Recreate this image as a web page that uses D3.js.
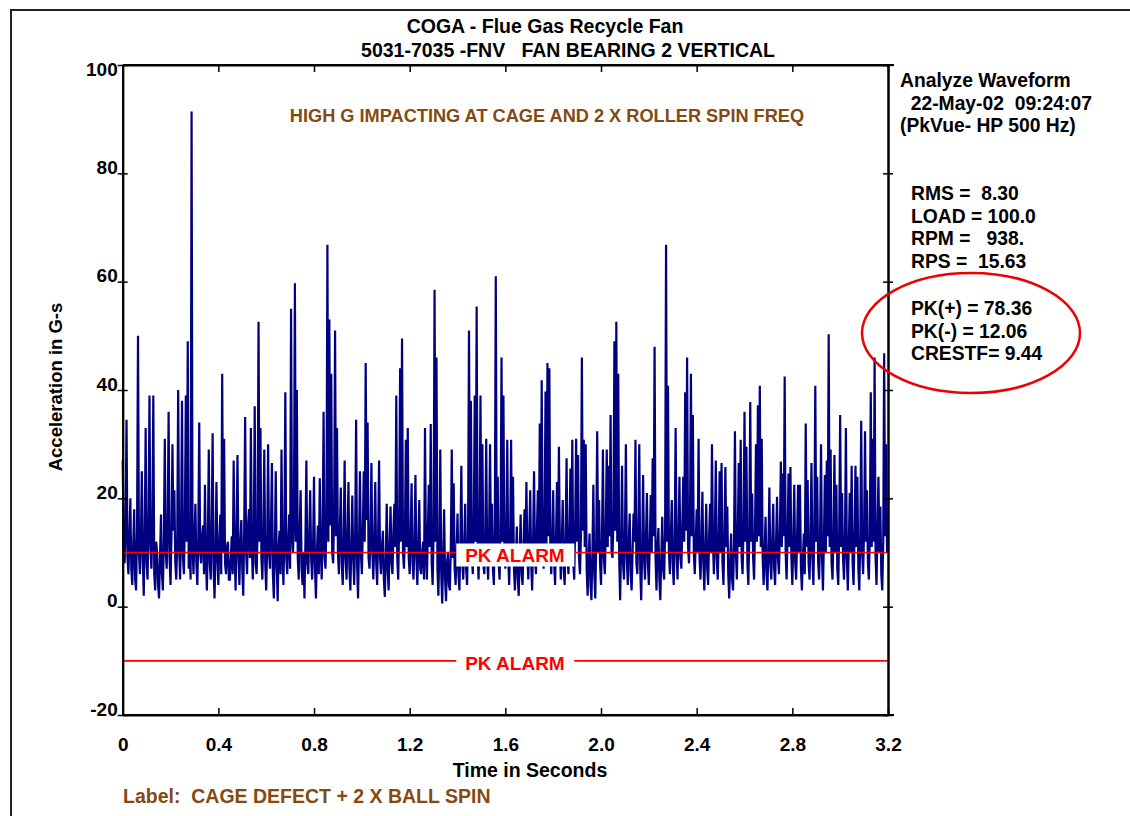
<!DOCTYPE html>
<html>
<head>
<meta charset="utf-8">
<script src="https://cdn.jsdelivr.net/npm/d3@7"></script>
<style>
  body { margin: 0; background: #fff; }
  text { font-family: "Liberation Sans", Arial, sans-serif; font-weight: bold; white-space: pre; }
</style>
</head>
<body>
<div id="chart"></div>
<script>

// waveform data (G-s, one sample every 0.004 s, 20 samples per row)
const sampleStep = 0.004;
const acceleration = [
  27, 12, 8, 15, 34.5, 9, 6, 13, 20, 7, 4, 11, 18, 5, 3, 14, 50, 10, 6, 12,
  25, 9, 2, 13, 33, 8, 5, 16, 39, 11, 7, 14, 39, 6, 3, 12, 10, 4, 1.5, 9,
  17, 6, 3, 12, 31, 10, 7, 15, 36, 9, 4, 13, 30, 14, 21.5, 8, 5, 12, 40, 11,
  5, 14, 38, 9, 6, 16, 39, 12, 49, 7, 10, 5, 91.4, 11, 6, 13, 19, 8, 4, 12,
  34, 10, 8, 13, 15, 6, 22.5, 9, 3, 12, 29, 8, 5, 14, 32, 7, 1.5, 10, 23, 9,
  4, 12, 17, 6, 43, 10, 31, 8, 6, 11, 12, 5, 5, 9, 13, 6, 27, 11, 3, 13,
  28, 9, 4, 12, 16, 7, 2, 14, 35, 10, 6, 15, 18, 9, 33, 11, 5, 13, 37, 8,
  6, 14, 52.6, 12, 33, 9, 5, 13, 29, 8, 3, 11, 30, 10, 7, 15, 26.5, 6, 1.5, 10,
  25, 8, 1, 11, 14, 6, 29, 10, 4, 13, 39.6, 9, 6, 12, 17, 7, 55, 13, 10, 16,
  59.7, 12, 40, 9, 5, 14, 21.5, 7, 4, 10, 1.5, 12, 27, 8, 6, 13, 21.5, 9, 5, 11,
  24, 7, 1.5, 10, 15, 6, 23.7, 11, 5, 14, 36, 9, 7, 16, 66.8, 12, 53, 15, 43, 10,
  8, 17, 51, 13, 33, 10, 6, 14, 22, 8, 4, 12, 27, 9, 5, 13, 23, 7, 3, 11,
  20.5, 9, 4, 13, 34.5, 8, 1.5, 11, 25, 10, 6, 14, 25, 12, 45, 16, 34, 9, 7, 13,
  26.5, 10, 5, 12, 23, 8, 4, 13, 27, 9, 6, 11, 14, 5, 1.8, 9, 19, 7, 3, 12,
  18.5, 8, 6, 14, 19, 11, 39, 9, 5, 15, 44, 12, 49.5, 10, 7, 13, 30.8, 11, 33, 9,
  6, 13, 22.8, 8, 5, 12, 24.3, 9, 4, 11, 19.7, 7, 6, 10, 12, 5, 33, 10, 5, 14,
  22.5, 11, 33.7, 8, 4, 14, 58.5, 12, 46, 7, 2, 10, 29, 6, 0.6, 9, 18, 5, 1, 8,
  10, 4, 3, 11, 29, 9, 22.8, 7, 4, 10, 17.2, 6, 3, 12, 26, 8, 5, 11, 19, 7,
  4, 13, 51, 11, 38, 9, 6, 15, 39, 12, 55.4, 10, 5, 14, 39, 11, 30, 8, 6, 12,
  31, 9, 5, 13, 30, 10, 19, 7, 4, 15, 61, 11, 24, 8, 5, 14, 46, 12, 39, 10,
  7, 13, 30.8, 9, 4, 12, 30.8, 10, 24, 7, 3, 9, 14.8, 5, 2, 10, 17, 6, 4, 11,
  18, 8, 23, 10, 5, 13, 21.5, 8, 3, 12, 25, 9, 6, 14, 21.5, 11, 33.8, 9, 41.8, 12,
  7, 15, 39.7, 11, 45, 13, 44, 10, 6, 12, 21.5, 8, 4, 13, 23, 9, 29.5, 11, 5, 12,
  19.7, 7, 4, 13, 27.4, 9, 6, 14, 25.5, 11, 30.8, 8, 5, 15, 31, 12, 28, 9, 6, 13,
  46, 14, 30.8, 11, 30, 7, 2, 9, 13.5, 4, 1.2, 10, 22.5, 6, 1.5, 12, 32.4, 10, 19.7, 8,
  4, 12, 29, 9, 6, 14, 29, 11, 26, 13, 35.4, 10, 9, 16, 49, 14, 52.6, 12, 43, 9,
  1.2, 11, 26, 8, 5, 13, 30, 9, 4, 12, 17.2, 6, 3, 10, 17.2, 12, 30.8, 8, 6, 14,
  30, 7, 1.2, 10, 24.3, 9, 5, 13, 21, 8, 4, 12, 20.6, 10, 27.4, 13, 48, 9, 3, 11,
  14.5, 5, 1.2, 9, 16.6, 7, 5, 14, 66.8, 12, 40.8, 10, 6, 13, 19.7, 8, 4, 12, 33, 10,
  5, 13, 24, 9, 7, 15, 24, 12, 39.6, 14, 46, 11, 8, 16, 43, 13, 35.4, 10, 6, 12,
  18, 10, 31, 9, 5, 12, 21.2, 8, 3, 11, 19, 7, 4, 13, 19, 10, 30, 12, 6, 13,
  27, 9, 5, 12, 25, 10, 26.5, 8, 4, 13, 25.8, 11, 18.5, 6, 1.5, 8, 13.5, 5, 3, 11,
  32.4, 10, 5, 14, 26.5, 11, 30.8, 9, 6, 15, 36, 12, 29.5, 8, 4, 13, 37.8, 12, 20.9, 9,
  5, 14, 30, 12, 37.2, 13, 40.8, 11, 31, 9, 4, 10, 16.6, 6, 3, 11, 22, 8, 5, 12,
  19, 7, 4, 12, 20.3, 9, 6, 14, 26.8, 11, 24.6, 13, 42.5, 10, 5, 13, 24.6, 11, 25.8, 9,
  4, 12, 22.5, 8, 5, 13, 22.5, 10, 22.5, 7, 3, 9, 13.5, 6, 33.8, 11, 23.4, 8, 5, 13,
  26.5, 9, 4, 14, 40.8, 12, 24, 8, 5, 13, 30, 9, 3, 12, 24.3, 10, 27, 13, 50.3, 11,
  29, 8, 5, 13, 28, 10, 22.5, 7, 4, 14, 35.4, 11, 21, 9, 5, 12, 33, 9, 3, 11,
  21, 10, 26, 8, 4, 13, 26, 11, 24, 7, 3, 12, 34.3, 10, 6, 14, 32.4, 12, 21.5, 8,
  5, 13, 39.6, 11, 31, 12, 46, 9, 4, 14, 24, 10, 18.5, 6, 3, 12, 46.8, 13, 30, 10,
  12
];

// axes
const xTicks = [0, 0.4, 0.8, 1.2, 1.6, 2.0, 2.4, 2.8, 3.2];
const yTicks = [-20, 0, 20, 40, 60, 80, 100];
const alarmLevels = [10, -10];

// texts
const titleLines = ["COGA - Flue Gas Recycle Fan", "5031-7035 -FNV   FAN BEARING 2 VERTICAL"];
const infoLines = ["Analyze Waveform", "  22-May-02  09:24:07", "(PkVue- HP 500 Hz)"];
const statLines = ["RMS =  8.30", "LOAD = 100.0", "RPM =   938.", "RPS =  15.63"];
const peakLines = ["PK(+) = 78.36", "PK(-) = 12.06", "CRESTF= 9.44"];
const noteText = "HIGH G IMPACTING AT CAGE AND 2 X ROLLER SPIN FREQ";
const labelText = "Label:  CAGE DEFECT + 2 X BALL SPIN";

const width = 1130, height = 816;
const plot = { left: 122.7, right: 888, top: 65, bottom: 715 };
const brown = "#844a12";

const svg = d3.select("#chart")
  .append("svg")
  .attr("width", width)
  .attr("height", height);

// page frame (top and left edges only)
svg.append("path")
  .attr("d", `M11,${height} V10 H${width}`)
  .attr("fill", "none")
  .attr("stroke", "#222")
  .attr("stroke-width", 2);

const x = d3.scaleLinear().domain([0, 3.2]).range([plot.left, plot.right]);
const y = d3.scaleLinear().domain([-20, 100]).range([plot.bottom, plot.top]);

// waveform
const line = d3.line()
  .x((d, i) => x(i * sampleStep))
  .y(d => y(d));

svg.append("path")
  .datum(acceleration)
  .attr("d", line)
  .attr("fill", "none")
  .attr("stroke", "#000080")
  .attr("stroke-width", 2.2);

// alarm lines with their labels
alarmLevels.forEach((lvl) => {
  svg.append("line")
    .attr("x1", plot.left).attr("x2", plot.right)
    .attr("y1", y(lvl)).attr("y2", y(lvl))
    .attr("stroke", "#ff0000")
    .attr("stroke-width", 1.6);
  svg.append("rect") // white box behind label
    .attr("x", x(1.395)).attr("y", y(lvl) - 9)
    .attr("width", 118).attr("height", 23)
    .attr("fill", "#fff");
  svg.append("text")
    .attr("x", x(1.64)).attr("y", y(lvl) + 9.5)
    .attr("text-anchor", "middle")
    .attr("font-size", 19)
    .attr("fill", "#ff0000")
    .text("PK ALARM");
});

// left axis, ticks crossing the line
const yAxis = svg.append("g")
  .attr("transform", `translate(${plot.left},0)`)
  .call(d3.axisLeft(y).tickValues(yTicks).tickSize(5).tickPadding(0)
    .tickFormat(d => String(d)).tickSizeOuter(0));
svg.append("g")
  .attr("transform", `translate(${plot.left},0)`)
  .call(d3.axisRight(y).tickValues(yTicks).tickSize(5).tickFormat("").tickSizeOuter(0));
yAxis.selectAll("text")
  .attr("dy", d => d === 100 ? "10px" : "0px")
  .attr("font-size", 19)
  .attr("fill", "#000");

// right axis, ticks crossing too
svg.append("g")
  .attr("transform", `translate(${plot.right},0)`)
  .call(d3.axisRight(y).tickValues(yTicks).tickSize(5).tickFormat("").tickSizeOuter(0));
svg.append("g")
  .attr("transform", `translate(${plot.right},0)`)
  .call(d3.axisLeft(y).tickValues(yTicks).tickSize(5).tickFormat("").tickSizeOuter(0));

// bottom axis, ticks pointing up
const xAxis = svg.append("g")
  .attr("transform", `translate(0,${plot.bottom})`)
  .call(d3.axisBottom(x).tickValues(xTicks).tickSize(-7).tickPadding(23)
    .tickFormat(d => d === 0 ? "0" : d3.format(".1f")(d)).tickSizeOuter(0));
xAxis.selectAll("text")
  .attr("font-size", 19)
  .attr("fill", "#000");

// top axis, ticks pointing down
svg.append("g")
  .attr("transform", `translate(0,${plot.top})`)
  .call(d3.axisTop(x).tickValues(xTicks).tickSize(-7).tickFormat("").tickSizeOuter(0));

// frame lines run a little past the right axis
[plot.top, plot.bottom].forEach(yy => {
  svg.append("line")
    .attr("x1", plot.left).attr("x2", plot.right + 6)
    .attr("y1", yy).attr("y2", yy)
    .attr("stroke", "#000").attr("stroke-width", 2);
});
svg.selectAll(".domain").attr("stroke-width", 2);
svg.selectAll(".tick line").attr("stroke-width", 1.5);

// titles
svg.selectAll(".title")
  .data(titleLines)
  .enter()
  .append("text")
    .attr("class", "title")
    .attr("x", (d, i) => i === 0 ? 545 : 568)
    .attr("y", (d, i) => 33 + i * 24)
    .attr("text-anchor", "middle")
    .attr("font-size", 19.5)
    .text(d => d);

// note inside the plot
svg.append("text")
  .attr("x", 547).attr("y", 122)
  .attr("text-anchor", "middle")
  .attr("font-size", 18.2)
  .attr("fill", brown)
  .text(noteText);

// right-hand info block
const infoBlock = (lines, x0, y0) => {
  svg.selectAll(null)
    .data(lines)
    .enter()
    .append("text")
      .attr("x", x0)
      .attr("y", (d, i) => y0 + i * 22.6)
      .attr("font-size", 19.3)
      .text(d => d);
};
infoBlock(infoLines, 900, 87);
infoBlock(statLines, 911, 200);
infoBlock(peakLines, 911, 315);

svg.append("ellipse")
  .attr("cx", 971).attr("cy", 333)
  .attr("rx", 109).attr("ry", 60)
  .attr("fill", "none")
  .attr("stroke", "#ee0000")
  .attr("stroke-width", 2.5);

// axis titles
svg.append("text")
  .attr("transform", `translate(62,${(plot.top + plot.bottom) / 2 - 3}) rotate(-90)`)
  .attr("text-anchor", "middle")
  .attr("font-size", 18.5)
  .text("Acceleration in G-s");

svg.append("text")
  .attr("x", 530).attr("y", 777)
  .attr("text-anchor", "middle")
  .attr("font-size", 19.5)
  .text("Time in Seconds");

svg.append("text")
  .attr("x", 123).attr("y", 803)
  .attr("font-size", 19.5)
  .attr("fill", brown)
  .text(labelText);

</script>
</body>
</html>
